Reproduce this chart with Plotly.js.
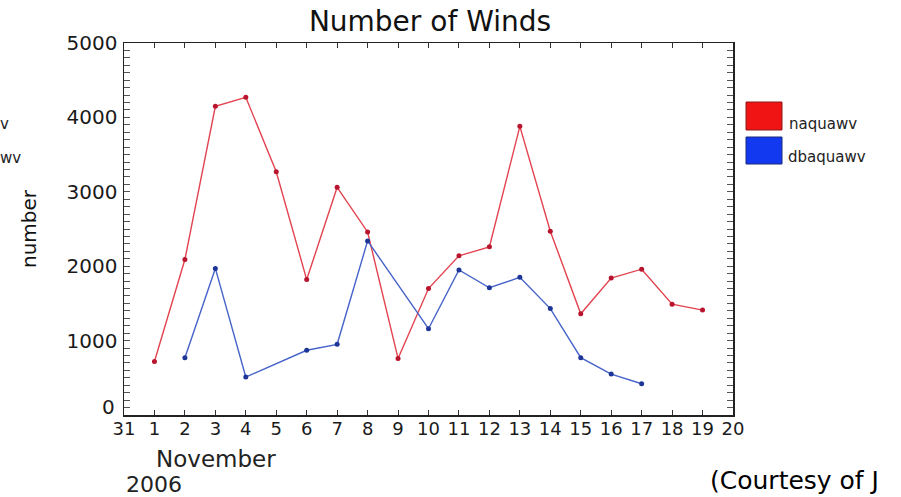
<!DOCTYPE html>
<html>
<head>
<meta charset="utf-8">
<script src="https://cdn.plot.ly/plotly-3.0.1.min.js"></script>
<style>
html,body{margin:0;padding:0;background:#fff;}
#chart{width:901px;height:497px;}
</style>
</head>
<body>
<div id="chart"></div>
<script>
// Day index: 0 = 31 Oct 2006, 1..20 = 1..20 Nov 2006
var tickDays   = [0,1,2,3,4,5,6,7,8,9,10,11,12,13,14,15,16,17,18,19,20];
var tickLabels = ['31','1','2','3','4','5','6','7','8','9','10','11','12','13','14','15','16','17','18','19','20'];

var yTickVals   = [1000,2000,3000,4000,5000];
var yTickLabels = ['1000','2000','3000','4000','5000'];
var yZeroLabel  = '0';

var naquawvDays   = [1,2,3,4,5,6,7,8,9,10,11,12,13,14,15,16,17,18,19];
var naquawvValues = [720,2090,4150,4270,3270,1820,3060,2460,760,1700,2140,2260,3880,2470,1360,1840,1960,1490,1410];

var dbaquawvDays   = [2,3,4,6,7,8,10,11,12,13,14,15,16,17];
var dbaquawvValues = [770,1970,510,870,950,2340,1160,1950,1710,1850,1430,770,550,420];

var seriesNames = ['naquawv','dbaquawv'];

// layout geometry (pixels)
var L = 124, R = 733, T = 43, B = 415;
function px(x){ return (x - L) / (R - L); }
function py(y){ return (B - y) / (B - T); }

var FONT = 'DejaVu Sans';

var traces = [
  {x: naquawvDays, y: naquawvValues, name: seriesNames[0], type: 'scatter', mode: 'lines+markers',
   line: {color: '#e2434f', width: 1.4}, marker: {color: '#b8142e', size: 5}},
  {x: dbaquawvDays, y: dbaquawvValues, name: seriesNames[1], type: 'scatter', mode: 'lines+markers',
   line: {color: '#4663c9', width: 1.4}, marker: {color: '#1c3596', size: 5}}
];

var layout = {
  width: 901, height: 497,
  margin: {l: L, r: 901 - R, t: T, b: 497 - B, pad: 0},
  paper_bgcolor: '#fff', plot_bgcolor: '#fff',
  showlegend: false,
  title: {text: 'Number of Winds', x: px(430), xref: 'paper', xanchor: 'center',
          y: 1 - 21/497, yanchor: 'middle', font: {family: FONT, size: 28, color: '#111'}},
  xaxis: {
    range: [0, 20], tickmode: 'array', tickvals: tickDays, ticktext: tickLabels,
    ticks: 'inside', ticklen: 5, tickwidth: 1, tickcolor: '#333',
    showline: true, linecolor: '#222', linewidth: 1.5, mirror: 'ticks',
    showgrid: false, zeroline: false,
    tickfont: {family: FONT, size: 18, color: '#1a1a1a'}, tickangle: 0,
    ticklabelstandoff: -3
  },
  yaxis: {
    range: [0, 5000], tickmode: 'array', tickvals: yTickVals, ticktext: yTickLabels,
    ticks: 'inside', ticklen: 6, tickwidth: 1, tickcolor: '#555',
    minor: {tickmode: 'linear', tick0: 0, dtick: 100, ticks: 'inside', ticklen: 6, tickwidth: 1, tickcolor: '#555'},
    showline: true, linecolor: '#222', linewidth: 1.5, mirror: 'ticks',
    showgrid: false, zeroline: false,
    tickfont: {family: FONT, size: 20, color: '#1a1a1a'},
    ticklabelstandoff: 1,
    title: {text: 'number', font: {family: FONT, size: 20, color: '#111'}, standoff: 24}
  },
  shapes: [
    {type: 'rect', xref: 'paper', yref: 'paper', x0: px(746), x1: px(782), y0: py(130), y1: py(102),
     fillcolor: '#f01414', line: {color: '#8a1a1a', width: 1}},
    {type: 'rect', xref: 'paper', yref: 'paper', x0: px(746), x1: px(782), y0: py(164), y1: py(137),
     fillcolor: '#1238f0', line: {color: '#1a2a7a', width: 1}}
  ],
  annotations: [
    {text: yZeroLabel, xref: 'paper', yref: 'paper', x: px(117), y: py(407), xanchor: 'right', yanchor: 'middle',
     showarrow: false, font: {family: FONT, size: 20, color: '#1a1a1a'}},
    {text: seriesNames[0], xref: 'paper', yref: 'paper', x: px(787), y: py(124), xanchor: 'left', yanchor: 'middle',
     showarrow: false, font: {family: FONT, size: 15, color: '#222'}},
    {text: seriesNames[1], xref: 'paper', yref: 'paper', x: px(786), y: py(157), xanchor: 'left', yanchor: 'middle',
     showarrow: false, font: {family: FONT, size: 15, color: '#222'}},
    {text: 'v', xref: 'paper', yref: 'paper', x: px(11), y: py(124), xanchor: 'right', yanchor: 'middle',
     showarrow: false, font: {family: FONT, size: 15, color: '#222'}},
    {text: 'wv', xref: 'paper', yref: 'paper', x: px(23), y: py(158), xanchor: 'right', yanchor: 'middle',
     showarrow: false, font: {family: FONT, size: 15, color: '#222'}},
    {text: 'November', xref: 'paper', yref: 'paper', x: px(154), y: py(459), xanchor: 'left', yanchor: 'middle',
     showarrow: false, font: {family: FONT, size: 23, color: '#222'}},
    {text: '2006', xref: 'paper', yref: 'paper', x: px(124), y: py(484), xanchor: 'left', yanchor: 'middle',
     showarrow: false, font: {family: FONT, size: 22, color: '#222'}},
    {text: '(Courtesy of J', xref: 'paper', yref: 'paper', x: px(708), y: py(497), xanchor: 'left', yanchor: 'bottom',
     showarrow: false, font: {family: FONT, size: 25, color: '#000'}}
  ]
};

Plotly.newPlot('chart', traces, layout, {displayModeBar: false, staticPlot: true});
</script>
</body>
</html>
